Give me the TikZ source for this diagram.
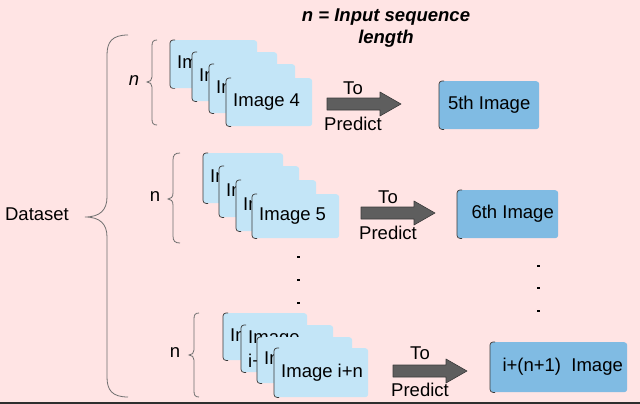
\documentclass[tikz,border=0pt]{standalone}
\usepackage{fontspec}
\setmainfont{Liberation Sans}
\definecolor{bgpink}{HTML}{FFE4E4}
\definecolor{lightbox}{HTML}{C3E5F7}
\definecolor{darkbox}{HTML}{80BBE3}
\definecolor{arrowfill}{HTML}{5E5E5E}
\definecolor{edgecol}{HTML}{3A3A3A}
\definecolor{bracecol}{HTML}{6E6E6E}
\tikzset{
  imgbox/.style={anchor=north west, fill=lightbox, rounded corners=3pt, inner xsep=7pt, inner ysep=0pt, font=\fontsize{18.5}{22}\selectfont, text=black},
  tgtbox/.style={anchor=north west, fill=darkbox, rounded corners=3pt, inner sep=0pt, font=\fontsize{18.5}{22}\selectfont, text=black},
  lbl/.style={font=\fontsize{18.5}{22}\selectfont, inner sep=0pt},
  edgeline/.style={draw=edgecol, line width=0.7pt, rounded corners=3pt},
  bracestyle/.style={draw=bracecol, line width=0.8pt},
  blockarrow/.style={fill=arrowfill, draw=edgecol, line width=0.6pt, line join=round},
  dotsq/.style={fill=black},
}
\newcommand\leftedge[1]{\draw[edgeline] ([xshift=5pt]#1.north west) -- (#1.north west) -- (#1.south west) -- ([xshift=5pt]#1.south west);}
\newcommand\blockarr[2]{\draw[blockarrow] (#1,#2-6) -- (#1+53,#2-6) -- (#1+53,#2-12) -- (#1+74,#2) -- (#1+53,#2+12) -- (#1+53,#2+6) -- (#1,#2+6) -- cycle;}
\begin{document}
\begin{tikzpicture}[x=1pt,y=-1pt]
\useasboundingbox (0,0) rectangle (640,404);
\fill[bgpink] (0,0) rectangle (640,404);

% title
\node[font=\fontsize{18.5}{22}\selectfont\bfseries\itshape, align=center, inner sep=0pt] (title) at (386,28) {n = Input sequence\\length};

% Dataset brace
\node[lbl] (dataset) at (37,214) {Dataset};
\draw[bracestyle] (128,35) .. controls (112,35) and (107,42) .. (107,55) -- (107,197) .. controls (107,210) and (100,217) .. (85,217) .. controls (100,217) and (107,224) .. (107,237) -- (107,377) .. controls (107,390) and (112,397) .. (128,397);

% group 1
\draw[bracestyle] (157,40) .. controls (153,40) and (152,42) .. (152,46) -- (152,77) .. controls (152,80) and (150,82) .. (147,82) .. controls (150,82) and (152,84) .. (152,87) -- (152,119) .. controls (152,123) and (153,125) .. (157,125);
\node[lbl, font=\fontsize{18.5}{22}\selectfont\itshape] (n1) at (134,81) {n};
\node[imgbox, minimum width=87pt, minimum height=48pt] (a1) at (170,40) {\makebox[73pt][l]{Image 1}};
\leftedge{a1}
\node[imgbox, minimum width=85pt, minimum height=49pt] (a2) at (192,52) {\makebox[71pt][l]{Image 2}};
\leftedge{a2}
\node[imgbox, minimum width=86pt, minimum height=49pt] (a3) at (209,64) {\makebox[72pt][l]{Image 3}};
\leftedge{a3}
\node[imgbox, minimum width=86pt, minimum height=48pt] (a4) at (226,78) {\makebox[72pt][l]{Image 4}};
\leftedge{a4}
\blockarr{327}{104}
\node[lbl] (to1) at (353,88) {To};
\node[lbl] (pr1) at (353,124) {Predict};
\node[tgtbox, minimum width=100pt, minimum height=48pt] (t1) at (439,81) {5th Image};
\leftedge{t1}

% group 2
\draw[bracestyle] (180,153) .. controls (175,153) and (173,155) .. (173,160) -- (173,193) .. controls (173,197) and (171,199) .. (168,199) .. controls (171,199) and (173,201) .. (173,205) -- (173,236) .. controls (173,241) and (175,243) .. (180,243);
\node[lbl] (n2) at (155,197) {n};
\node[imgbox, minimum width=80pt, minimum height=50pt] (b1) at (203,153) {\makebox[66pt][l]{Image 2}};
\leftedge{b1}
\node[imgbox, minimum width=80pt, minimum height=51pt] (b2) at (219,166) {\makebox[66pt][l]{Image 3}};
\leftedge{b2}
\node[imgbox, minimum width=80pt, minimum height=51pt] (b3) at (236,180) {\makebox[66pt][l]{Image 4}};
\leftedge{b3}
\node[imgbox, minimum width=87pt, minimum height=44pt] (b4) at (252,194) {\makebox[73pt][l]{Image 5}};
\leftedge{b4}
\blockarr{361}{213}
\node[lbl] (to2) at (388,197) {To};
\node[lbl] (pr2) at (388,233) {Predict};
\node[tgtbox, minimum width=101pt, minimum height=48pt] (t2) at (457,190) {\hspace*{10pt}6th Image};
\leftedge{t2}

% dots
\foreach \yy in {257,280,303} {\fill[dotsq] (297,\yy-1.2) rectangle (299.5,\yy+1.2);}
\foreach \yy in {266,288,311} {\fill[dotsq] (537,\yy-1.2) rectangle (539.5,\yy+1.2);}

% group 3
\draw[bracestyle] (199,313) .. controls (195,313) and (194,315) .. (194,319) -- (194,350) .. controls (194,353) and (192,355) .. (189,355) .. controls (192,355) and (194,357) .. (194,360) -- (194,391) .. controls (194,395) and (195,397) .. (199,397);
\node[lbl] (n3) at (175,353) {n};
\node[imgbox, minimum width=84pt, minimum height=47pt] (c1) at (223,313) {\makebox[70pt][l]{Image i}};
\leftedge{c1}
\node[imgbox, minimum width=92pt, minimum height=47pt, text width=78pt, align=left, font=\fontsize{18.5}{24}\selectfont] (c2) at (241,325) {Image\\i+1};
\leftedge{c2}
\node[imgbox, minimum width=95pt, minimum height=46pt] (c3) at (257,337) {\makebox[81pt][l]{Image i+2}};
\leftedge{c3}
\node[imgbox, minimum width=94pt, minimum height=49pt] (c4) at (274,348) {\makebox[80pt][l]{Image i+n}};
\leftedge{c4}
\blockarr{393}{371}
\node[lbl] (to3) at (420,353) {To};
\node[lbl] (pr3) at (420,390) {Predict};
\node[tgtbox, minimum width=137pt, minimum height=50pt] (t3) at (490,342) {\hspace*{8pt}i+(n+1)\ \ Image};
\leftedge{t3}

% bottom edge line
\draw[line width=2pt, color=edgecol!80!black] (0,403) -- (640,403);
\end{tikzpicture}
\end{document}
